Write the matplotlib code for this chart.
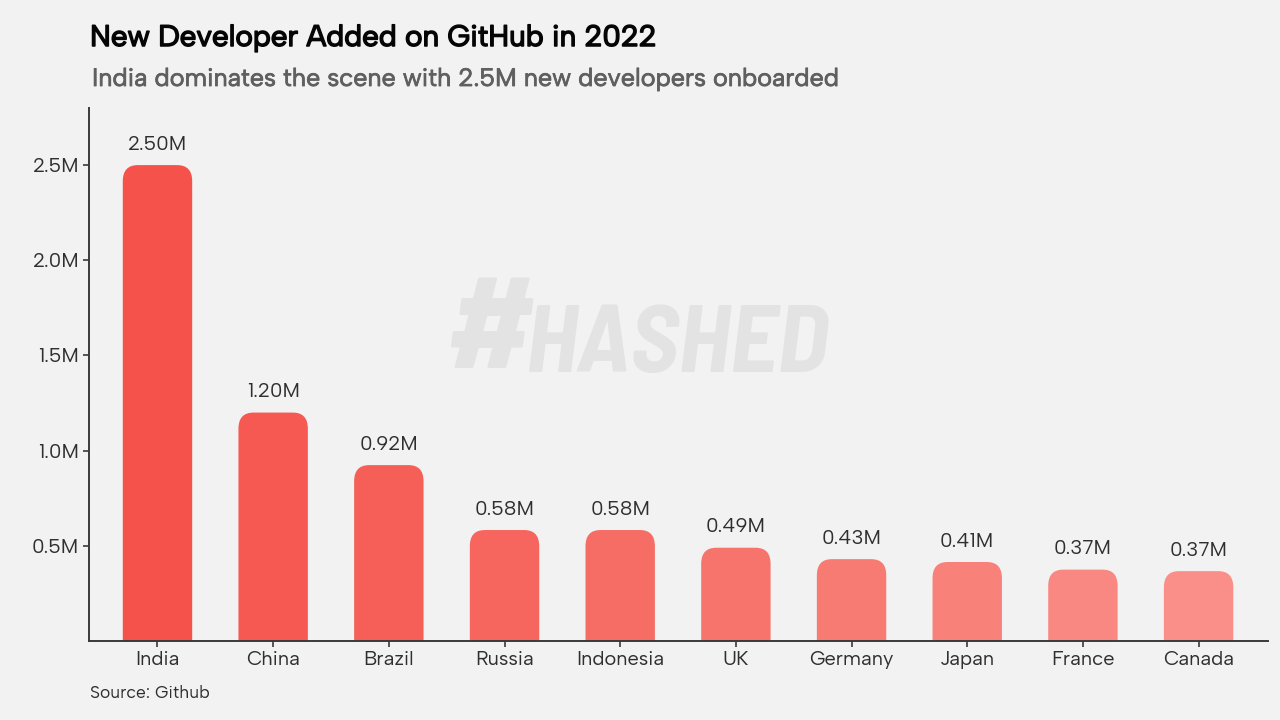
import matplotlib
matplotlib.use('Agg')
import matplotlib.pyplot as plt
import matplotlib.patheffects as pe
import numpy as np
from matplotlib.patches import PathPatch
from matplotlib.path import Path
from matplotlib.colors import LinearSegmentedColormap

countries = ['India', 'China', 'Brazil', 'Russia', 'Indonesia', 'UK',
             'Germany', 'Japan', 'France', 'Canada']
developers = [2.50, 1.20, 0.924, 0.583, 0.583, 0.49, 0.43, 0.415, 0.375, 0.367]
value_labels = ['2.50M', '1.20M', '0.92M', '0.58M', '0.58M', '0.49M',
                '0.43M', '0.41M', '0.37M', '0.37M']
y_ticks = [0.5, 1.0, 1.5, 2.0, 2.5]
y_tick_labels = ['0.5M', '1.0M', '1.5M', '2.0M', '2.5M']

BG = '#f2f2f2'
AXIS = '#3a3a3a'
TEXT = '#2f2f2f'
FONT = ['Albert Sans', 'Inter']
MARK_FONT = ['Barlow Semi Condensed', 'Liberation Sans']
BAR_W = 0.6


def rounded_top(x, h, w, rx, ry):
    # bar outline with the two top corners rounded
    l, r = x - w / 2, x + w / 2
    verts = [(l, 0), (l, h - ry), (l, h), (l + rx, h), (r - rx, h), (r, h),
             (r, h - ry), (r, 0), (l, 0)]
    codes = [Path.MOVETO, Path.LINETO, Path.CURVE3, Path.CURVE3, Path.LINETO,
             Path.CURVE3, Path.CURVE3, Path.LINETO, Path.CLOSEPOLY]
    return Path(verts, codes)


fig = plt.figure(figsize=(12.8, 7.2), dpi=100, facecolor=BG)
ax = fig.add_axes([89 / 1280, 1 - 641 / 720, (1268 - 89) / 1280, (641 - 108) / 720])
ax.patch.set_alpha(0)

# Watermark
fig.text(444 / 1280, 1 - 372 / 720, '#', family=MARK_FONT, fontsize=100, fontweight='bold',
         style='italic', color='#e3e3e3', va='baseline', zorder=0)
fig.text(526 / 1280, 1 - 372 / 720, 'HASHED', family=MARK_FONT, fontsize=69, fontweight='bold',
         style='italic', color='#e3e3e3', va='baseline', zorder=0)

# Bars, getting lighter left to right
cmap = LinearSegmentedColormap.from_list('reds', ['#f4524a', '#f98f88'])
x = np.arange(len(countries))
for i, (xi, v) in enumerate(zip(x, developers)):
    ax.add_patch(PathPatch(rounded_top(xi, v, BAR_W, 0.13, 0.085),
                           facecolor=cmap(i / (len(x) - 1)), edgecolor='none'))
    ax.text(xi, v + 0.06, value_labels[i], ha='center', va='bottom',
            family=FONT, fontsize=14.5, color=TEXT)

ax.set_xlim(-0.592, 9.6)
ax.set_ylim(0, 2.8)
ax.set_xticks(x)
ax.set_xticklabels(countries, family=FONT, fontsize=14.5, color=TEXT)
ax.set_yticks(y_ticks)
ax.set_yticklabels(y_tick_labels, family=FONT, fontsize=14.5, color=TEXT)
ax.tick_params(axis='both', length=4, width=1.2, color=AXIS, pad=3)

for side in ['top', 'right']:
    ax.spines[side].set_visible(False)
for side in ['left', 'bottom']:
    ax.spines[side].set_color(AXIS)
    ax.spines[side].set_linewidth(1.4)

# Titles and source (stroke thickens them, the font has no bold cut here)
fig.text(90 / 1280, 1 - 46 / 720, 'New Developer Added on GitHub in 2022',
         family=FONT, fontsize=21.3, fontweight='bold', color='#050505', va='baseline',
         path_effects=[pe.withStroke(linewidth=1.1, foreground='#050505')])
fig.text(92 / 1280, 1 - 86 / 720, 'India dominates the scene with 2.5M new developers onboarded',
         family=FONT, fontsize=18.1, fontweight='semibold', color='#5f5f5f', va='baseline',
         path_effects=[pe.withStroke(linewidth=0.6, foreground='#5f5f5f')])
fig.text(90 / 1280, 1 - 698 / 720, 'Source: Github',
         family=FONT, fontsize=12.6, color=TEXT, va='baseline')

fig.savefig('out.png', dpi=100, facecolor=BG)
